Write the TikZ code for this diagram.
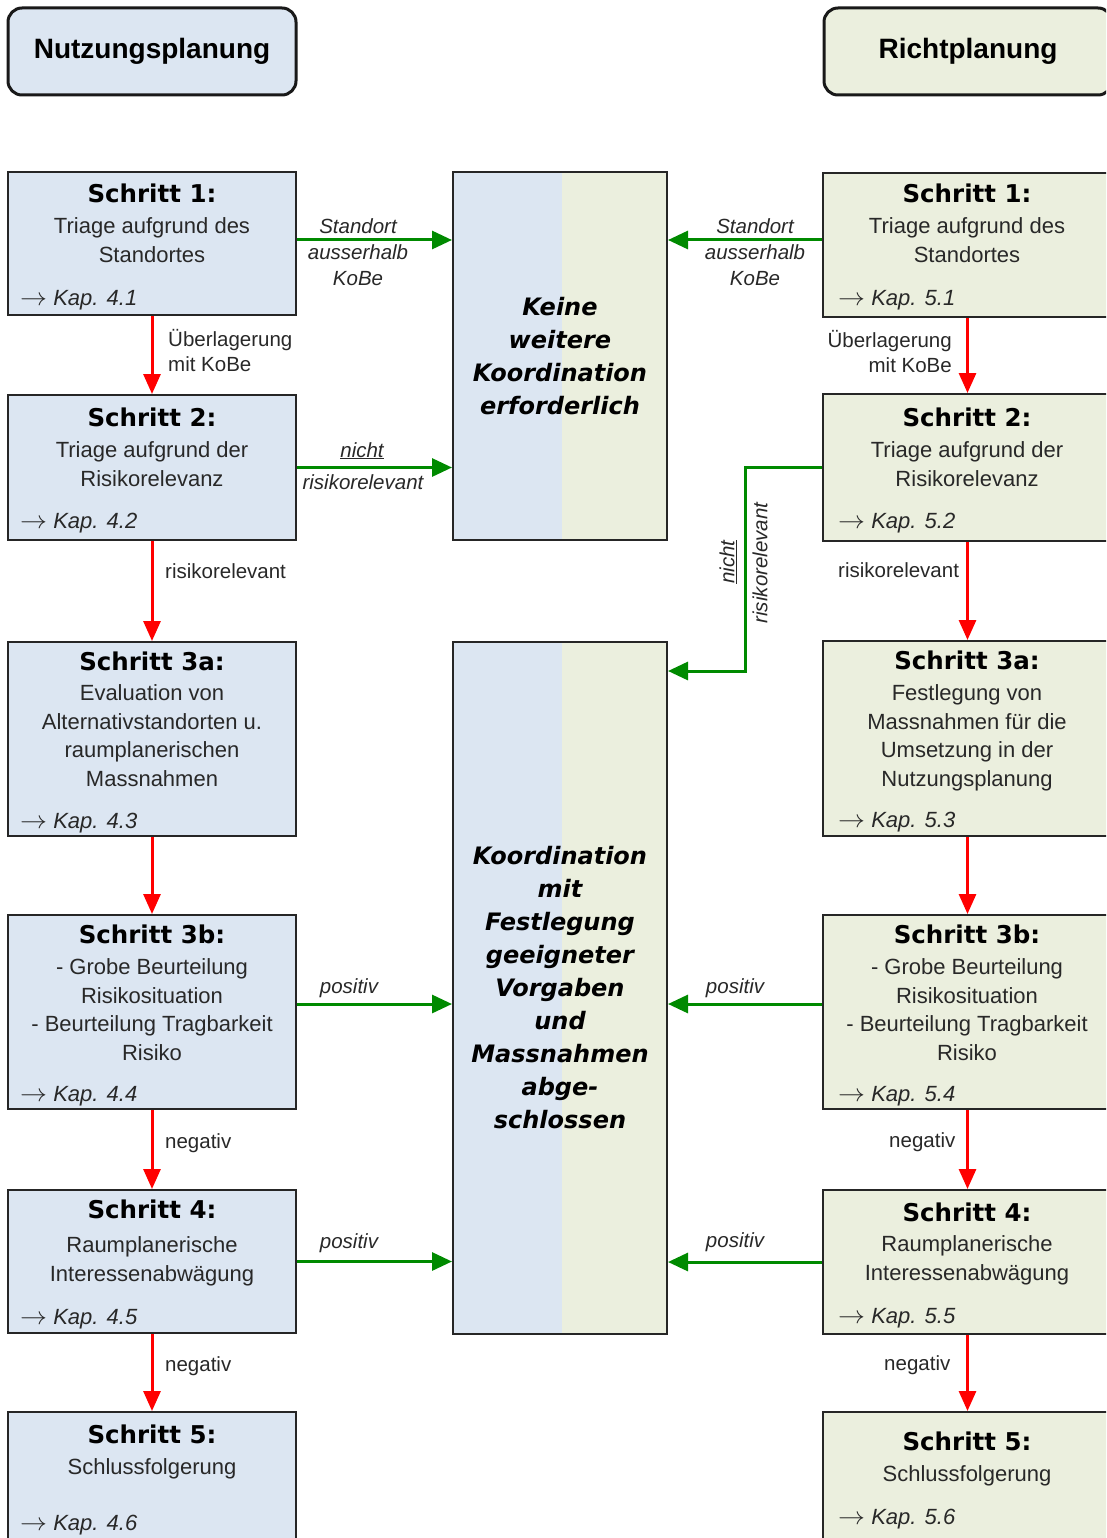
\documentclass[tikz,border=0pt]{standalone}
\usepackage{graphicx}
\usepackage{fontspec}
\setmainfont{Liberation Sans}
\newfontfamily\titlefam{DejaVu Sans}
\usetikzlibrary{arrows.meta,positioning,calc}

\definecolor{nutzblue}{RGB}{220,230,242}
\definecolor{richtgreen}{RGB}{235,239,222}
\definecolor{flowgreen}{RGB}{0,138,0}
\definecolor{flowred}{RGB}{255,0,0}
\definecolor{textgray}{RGB}{40,40,40}

\newcommand{\schritt}[1]{{\titlefam\bfseries\fontsize{24.5}{28}\selectfont\color{black}#1}}
\newcommand{\kapto}{\scalebox{1.3}[1.2]{$\rightarrow$}}

\begin{document}
\begin{tikzpicture}[x=1pt, y=-1pt,
    head/.style={draw=black!90, line width=3pt, rounded corners=14pt, minimum width=288pt, minimum height=87pt, font=\fontsize{28}{30}\selectfont\bfseries},
    lbox/.style={draw=black!85, line width=2pt, fill=nutzblue, minimum width=288pt},
    rbox/.style={draw=black!85, line width=2pt, fill=richtgreen, minimum width=289pt},
    midbox/.style={draw=black!85, line width=2pt, minimum width=214pt, align=center, text=black,
      font=\titlefam\bfseries\itshape\fontsize{24}{33}\selectfont,
      path picture={
        \fill[nutzblue] (path picture bounding box.south west) rectangle ([xshift=2pt]path picture bounding box.north);
        \fill[richtgreen] ([xshift=2pt]path picture bounding box.south) rectangle (path picture bounding box.north east);}},
    steptext/.style={anchor=north, align=center, inner sep=0pt, text=textgray, font=\fontsize{22}{28.5}\selectfont},
    kap/.style={anchor=base west, inner sep=0pt, text=textgray, font=\fontsize{22}{28}\selectfont\itshape},
    lbl/.style={inner sep=0pt, text=textgray, font=\fontsize{20.5}{26}\selectfont},
    ilbl/.style={lbl, font=\fontsize{20.5}{26}\selectfont\itshape},
    ga/.style={draw=flowgreen, line width=3pt, -{Triangle[length=20pt,width=18pt]}},
    ra/.style={draw=flowred, line width=3pt, -{Triangle[length=20pt,width=17pt]}}]

  \useasboundingbox (0,0) rectangle (1106,1538);
  \clip (0,0) rectangle (1106,1538);

  % Kopfzeilen
  \node[head, fill=nutzblue] (hnutz) at (152,51.5) {Nutzungsplanung};
  \node[head, fill=richtgreen] (hricht) at (968,51.5) {Richtplanung};

  % Nutzungsplanung (links)
  \node[lbox, minimum height=143pt] (l1) at (152,243.5) {};
  \node[lbox, minimum height=145pt] (l2) at (152,467.5) {};
  \node[lbox, minimum height=194pt] (l3a) at (152,739) {};
  \node[lbox, minimum height=194pt] (l3b) at (152,1012) {};
  \node[lbox, minimum height=143pt] (l4) at (152,1261.5) {};
  \node[lbox, minimum height=138pt] (l5) at (152,1481) {};

  \node[steptext] (l1t) at (152,183.4) {\schritt{Schritt 1:}\\[3pt]Triage aufgrund des\\Standortes};
  \node[steptext] (l2t) at (152,407.4) {\schritt{Schritt 2:}\\[3pt]Triage aufgrund der\\Risikorelevanz};
  \node[steptext] (l3at) at (152,651.4) {\schritt{Schritt 3a:}\\[2pt]Evaluation von\\Alternativstandorten u.\\raumplanerischen\\Massnahmen};
  \node[steptext] (l3bt) at (152,924.4) {\schritt{Schritt 3b:}\\[3pt]- Grobe Beurteilung\\Risikosituation\\- Beurteilung Tragbarkeit\\Risiko};
  \node[steptext] (l4t) at (152,1199.4) {\schritt{Schritt 4:}\\[6pt]Raumplanerische\\Interessenabwägung};
  \node[steptext] (l5t) at (152,1424.4) {\schritt{Schritt 5:}\\[3pt]Schlussfolgerung};

  \node[kap] (l1k) at (20,305) {\kapto\ Kap. 4.1};
  \node[kap] (l2k) at (20,528) {\kapto\ Kap. 4.2};
  \node[kap] (l3ak) at (20,828) {\kapto\ Kap. 4.3};
  \node[kap] (l3bk) at (20,1101) {\kapto\ Kap. 4.4};
  \node[kap] (l4k) at (20,1324) {\kapto\ Kap. 4.5};
  \node[kap] (l5k) at (20,1530) {\kapto\ Kap. 4.6};

  % Richtplanung (rechts)
  \node[rbox, minimum height=144pt] (r1) at (967.5,245) {};
  \node[rbox, minimum height=147pt] (r2) at (967.5,467.5) {};
  \node[rbox, minimum height=195pt] (r3a) at (967.5,738.5) {};
  \node[rbox, minimum height=194pt] (r3b) at (967.5,1012) {};
  \node[rbox, minimum height=144pt] (r4) at (967.5,1262) {};
  \node[rbox, minimum height=138pt] (r5) at (967.5,1481) {};

  \node[steptext] (r1t) at (967,183.4) {\schritt{Schritt 1:}\\[3pt]Triage aufgrund des\\Standortes};
  \node[steptext] (r2t) at (967,407.4) {\schritt{Schritt 2:}\\[3pt]Triage aufgrund der\\Risikorelevanz};
  \node[steptext] (r3at) at (967,650.4) {\schritt{Schritt 3a:}\\[3pt]Festlegung von\\Massnahmen für die\\Umsetzung in der\\Nutzungsplanung};
  \node[steptext] (r3bt) at (967,924.4) {\schritt{Schritt 3b:}\\[3pt]- Grobe Beurteilung\\Risikosituation\\- Beurteilung Tragbarkeit\\Risiko};
  \node[steptext] (r4t) at (967,1202.4) {\schritt{Schritt 4:}\\[2pt]Raumplanerische\\Interessenabwägung};
  \node[steptext] (r5t) at (967,1431.4) {\schritt{Schritt 5:}\\[3pt]Schlussfolgerung};

  \node[kap] (r1k) at (838,305) {\kapto\ Kap. 5.1};
  \node[kap] (r2k) at (838,528) {\kapto\ Kap. 5.2};
  \node[kap] (r3ak) at (838,827) {\kapto\ Kap. 5.3};
  \node[kap] (r3bk) at (838,1101) {\kapto\ Kap. 5.4};
  \node[kap] (r4k) at (838,1323) {\kapto\ Kap. 5.5};
  \node[kap] (r5k) at (838,1524) {\kapto\ Kap. 5.6};

  % Mitte
  \node[midbox, minimum height=368pt] (k1) at (560,356) {Keine\\weitere\\Koordination\\erforderlich};
  \node[midbox, minimum height=692pt] (k2) at (560,988) {Koordination\\mit\\Festlegung\\geeigneter\\Vorgaben\\und\\Massnahmen\\abge-\\schlossen};

  % rote Pfeile
  \draw[ra] (l1) -- (l2);
  \draw[ra] (l2) -- (l3a);
  \draw[ra] (l3a) -- (l3b);
  \draw[ra] (l3b) -- (l4);
  \draw[ra] (l4) -- (l5);
  \draw[ra] (r1) -- (r2);
  \draw[ra] (r2) -- (r3a);
  \draw[ra] (r3a) -- (r3b);
  \draw[ra] (r3b) -- (r4);
  \draw[ra] (r4) -- (r5);

  % gruene Pfeile
  \coordinate (gl1) at ([yshift=3.5pt]l1.east);
  \coordinate (gl3b) at ([yshift=8pt]l3b.east);
  \coordinate (gr1) at ([yshift=5pt]r1.west);
  \coordinate (gr3b) at ([yshift=8pt]r3b.west);
  \coordinate (nk) at (745,671);
  \draw[ga] (gl1) -- (gl1 -| k1.west);
  \draw[ga] (l2.east) -- (l2.east -| k1.west);
  \draw[ga] (gl3b) -- (gl3b -| k2.west);
  \draw[ga] (l4.east) -- (l4.east -| k2.west);
  \draw[ga] (gr1) -- (gr1 -| k1.east);
  \draw[ga] (gr3b) -- (gr3b -| k2.east);
  \draw[ga] (r4.west) -- (r4.west -| k2.east);
  \draw[ga] (r2.west) -| (nk) -- (nk -| k2.east);

  % Beschriftungen
  \node[ilbl, anchor=north, align=center] (sol) at (358,218) {Standort\\ausserhalb\\KoBe};
  \node[ilbl, anchor=north, align=center] (sor) at (755,218) {Standort\\ausserhalb\\KoBe};
  \node[ilbl, anchor=base] (nrl1) at (362,457) {\underline{nicht}};
  \node[ilbl, anchor=base] (nrl2) at (363,489) {risikorelevant};
  \node[ilbl, rotate=90] (nrr1) at (728,562) {\underline{nicht}};
  \node[ilbl, rotate=90] (nrr2) at (760,563) {risikorelevant};

  \node[lbl, anchor=base west] (ul1) at (168,346) {Überlagerung};
  \node[lbl, anchor=base west] (ul2) at (168,371) {mit KoBe};
  \node[lbl, anchor=base east] (ur1) at (952,347) {Überlagerung};
  \node[lbl, anchor=base east] (ur2) at (952,372) {mit KoBe};
  \node[lbl, anchor=base west] (rl) at (165,578) {risikorelevant};
  \node[lbl, anchor=base west] (rr) at (838,577) {risikorelevant};
  \node[lbl, anchor=base west] (nl1) at (165,1148) {negativ};
  \node[lbl, anchor=base west] (nr1) at (889,1147) {negativ};
  \node[lbl, anchor=base west] (nl2) at (165,1371) {negativ};
  \node[lbl, anchor=base west] (nr2) at (884,1370) {negativ};
  \node[ilbl, anchor=base] (pl1) at (349,993) {positiv};
  \node[ilbl, anchor=base] (pr1) at (735,993) {positiv};
  \node[ilbl, anchor=base] (pl2) at (349,1248) {positiv};
  \node[ilbl, anchor=base] (pr2) at (735,1247) {positiv};
\end{tikzpicture}
\end{document}
